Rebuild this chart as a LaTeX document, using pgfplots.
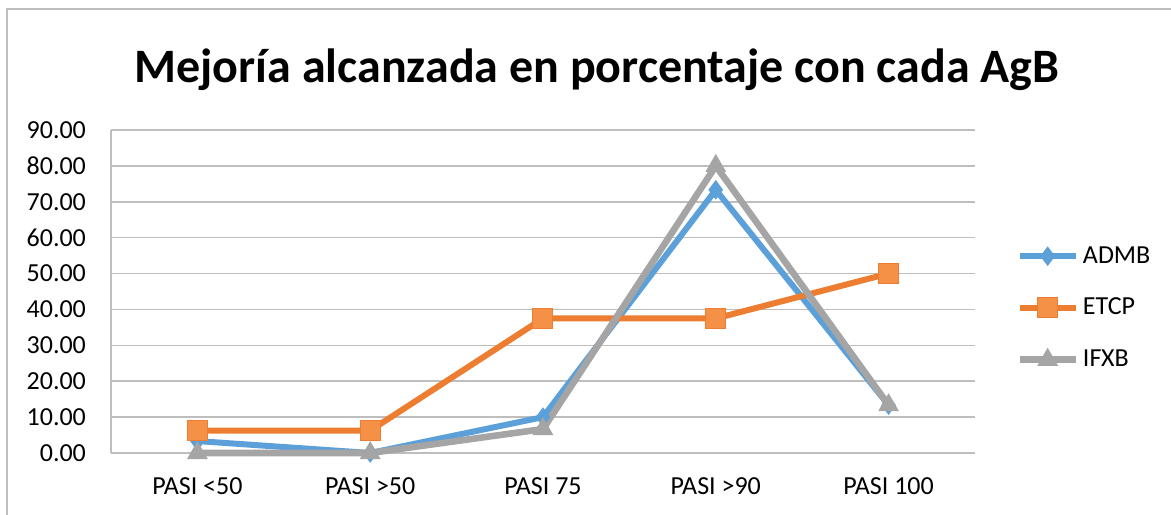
\documentclass[border=0pt]{standalone}
\usepackage{fontspec}
\setmainfont{Carlito}
\usepackage{pgfplots}
\pgfplotsset{compat=1.18}
\definecolor{admb}{RGB}{91,160,216}
\definecolor{etcp}{RGB}{237,125,49}
\definecolor{etcpfill}{RGB}{244,145,70}
\definecolor{ifxb}{RGB}{165,165,165}
\definecolor{gridc}{RGB}{190,190,190}

\begin{document}
\begin{tikzpicture}
% reference is 1171 x 514 px; 1 px = 0.5pt; plot area spans px 111..975 x 130..453
\begin{axis}[
    scale only axis,
    width=432pt, height=161.5pt,
    xmin=-0.5, xmax=4.5,
    ymin=0, ymax=90,
    ytick={0,10,...,90},
    xtick={0,1,2,3,4},
    xticklabels={PASI <50, PASI >50, PASI 75, PASI >90, PASI 100},
    axis x line*=bottom, axis y line*=left,
    axis line style={gridc, line width=0.8pt, -},
    major tick length=0pt,
    ymajorgrids=true,
    grid style={gridc, line width=0.8pt},
    /pgf/number format/assume math mode=true,
    yticklabel style={/pgf/number format/fixed, /pgf/number format/fixed zerofill,
        /pgf/number format/precision=2, xshift=-9pt},
    tick label style={font=\fontsize{13}{15}\selectfont},
    xticklabel style={yshift=-9pt},
    clip=false,
    legend cell align=left,
    legend style={at={(1.0474,0.449)}, anchor=west, draw=none, fill=none,
        inner sep=0pt,
        font=\fontsize{13}{15}\selectfont, row sep=12pt,
        /tikz/every even column/.append style={column sep=-1pt}},
    legend image code/.code={
        \draw[#1, mark=none] (0pt,0pt) -- (28pt,0pt);
        \draw[#1, only marks] plot coordinates {(14pt,0pt)};
    },
]
\coordinate (bl) at (rel axis cs:-0.12847,-0.18885);
\coordinate (tr) at (rel axis cs:1.22685,1.40248);
\draw[gridc, line width=1pt] (rel axis cs:-0.12037,-0.2) -- (rel axis cs:-0.12037,1.3746) -- (rel axis cs:1.25,1.3746);
\node[anchor=base, font=\fontsize{24}{28}\selectfont\bfseries] at (rel axis cs:0.5625,1.14861)
  {Mejoría alcanzada en porcentaje con cada AgB};

\addplot[admb, line width=3pt, mark=diamond*, mark size=4.5pt,
    mark options={solid, fill=admb, line width=0.5pt}]
    coordinates {(0,3.33)(1,0)(2,10)(3,73.33)(4,13.33)};
\addlegendentry{ADMB}
\addplot[etcp, line width=3pt, mark=square*, mark size=5pt,
    mark options={solid, fill=etcpfill, draw=etcp, line width=0.5pt}]
    coordinates {(0,6.25)(1,6.25)(2,37.5)(3,37.5)(4,50)};
\addlegendentry{ETCP}
\addplot[ifxb, line width=3.3pt, mark=triangle*, mark size=5.5pt,
    mark options={solid, fill=ifxb, line width=0.5pt}]
    coordinates {(0,0)(1,0)(2,6.67)(3,80)(4,13.33)};
\addlegendentry{IFXB}
\end{axis}
\pgfresetboundingbox
\path (bl) rectangle (tr);
\end{tikzpicture}
\end{document}
